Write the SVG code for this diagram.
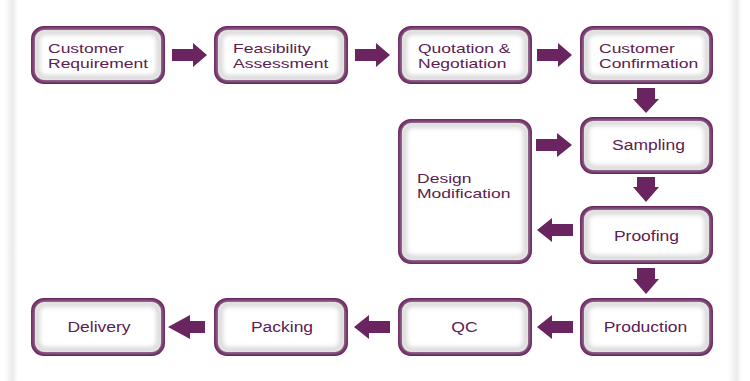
<svg xmlns="http://www.w3.org/2000/svg" width="750" height="381" viewBox="0 0 750 381">
<defs>
<linearGradient id="lsh" x1="0" x2="1" y1="0" y2="0">
<stop offset="0" stop-color="#ffffff"/>
<stop offset="0.6" stop-color="#ececec"/>
<stop offset="1" stop-color="#ffffff"/>
</linearGradient>
<filter id="inner" x="-10%" y="-10%" width="120%" height="120%">
<feGaussianBlur stdDeviation="2.5"/>
</filter>
</defs>
<style>
.box{fill:#ffffff;stroke:#6a2460;stroke-width:4}
.glow{fill:none;stroke:#c8c8c8;stroke-width:4}
.t{font-family:"Liberation Sans",Arial,sans-serif;font-size:14px;fill:#5c2052}
.m{font-size:13.4px}
.c{text-anchor:middle}
.arr{fill:#6a2460}
</style>
<rect width="750" height="381" fill="#ffffff"/>
<rect x="4" y="0" width="14" height="381" fill="url(#lsh)"/>
<rect x="728" y="0" width="14" height="381" fill="url(#lsh)"/>

<g id="connectors">
<polygon class="arr" points="172,49 193,49 193,43 207,55 193,67 193,61 172,61"/>
<polygon class="arr" points="355,49 376,49 376,43 390,55 376,67 376,61 355,61"/>
<polygon class="arr" points="537,49 558,49 558,43 572,55 558,67 558,61 537,61"/>
<polygon class="arr" points="637,88 655,88 655,99 659,99 646,113 633,99 637,99"/>
<polygon class="arr" points="536,139 557,139 557,133 572,145 557,157 557,151 536,151"/>
<polygon class="arr" points="637,177 655,177 655,187 659,187 646,202 633,187 637,187"/>
<polygon class="arr" points="573,224 552,224 552,218 537,230 552,242 552,236 573,236"/>
<polygon class="arr" points="637,268 655,268 655,279 659,279 646,294 633,279 637,279"/>
<polygon class="arr" points="573,321 552,321 552,315 537,327 552,339 552,333 573,333"/>
<polygon class="arr" points="390,321 369,321 369,315 354,327 369,339 369,333 390,333"/>
<polygon class="arr" points="205,321 190,321 190,315 168,327 190,339 190,333 205,333"/>
</g>

<g id="n1"><rect class="box" x="33" y="28" width="130" height="54" rx="11"/><rect class="glow" x="37" y="32" width="122" height="46" rx="8" filter="url(#inner)"/>
<text class="t m" x="48" y="52.5" textLength="75.8" lengthAdjust="spacingAndGlyphs">Customer</text><text class="t m" x="48" y="67.5" textLength="100.2" lengthAdjust="spacingAndGlyphs">Requirement</text></g>
<g id="n2"><rect class="box" x="216" y="28" width="130" height="54" rx="11"/><rect class="glow" x="220" y="32" width="122" height="46" rx="8" filter="url(#inner)"/>
<text class="t m" x="233" y="52.5" textLength="77.8" lengthAdjust="spacingAndGlyphs">Feasibility</text><text class="t m" x="233" y="67.5" textLength="95.3" lengthAdjust="spacingAndGlyphs">Assessment</text></g>
<g id="n3"><rect class="box" x="400" y="28" width="130" height="54" rx="11"/><rect class="glow" x="404" y="32" width="122" height="46" rx="8" filter="url(#inner)"/>
<text class="t m" x="418" y="52.5" textLength="92.4" lengthAdjust="spacingAndGlyphs">Quotation &amp;</text><text class="t m" x="418" y="67.5" textLength="88.5" lengthAdjust="spacingAndGlyphs">Negotiation</text></g>
<g id="n4"><rect class="box" x="582" y="28" width="129" height="54" rx="11"/><rect class="glow" x="586" y="32" width="121" height="46" rx="8" filter="url(#inner)"/>
<text class="t m" x="599" y="52.5" textLength="75.8" lengthAdjust="spacingAndGlyphs">Customer</text><text class="t m" x="599" y="67.5" textLength="99.2" lengthAdjust="spacingAndGlyphs">Confirmation</text></g>
<g id="n5"><rect class="box" x="582" y="119" width="129" height="53" rx="11"/><rect class="glow" x="586" y="123" width="121" height="45" rx="8" filter="url(#inner)"/>
<text class="t c" x="648.5" y="150" textLength="72.9" lengthAdjust="spacingAndGlyphs">Sampling</text></g>
<g id="n6"><rect class="box" x="400" y="121" width="130" height="141" rx="11"/><rect class="glow" x="404" y="125" width="122" height="133" rx="8" filter="url(#inner)"/>
<text class="t m" x="417" y="182.5" textLength="54.5" lengthAdjust="spacingAndGlyphs">Design</text><text class="t m" x="417" y="197.5" textLength="93.4" lengthAdjust="spacingAndGlyphs">Modification</text></g>
<g id="n7"><rect class="box" x="582" y="208" width="129" height="54" rx="11"/><rect class="glow" x="586" y="212" width="121" height="46" rx="8" filter="url(#inner)"/>
<text class="t c" x="646.5" y="240.5" textLength="65.2" lengthAdjust="spacingAndGlyphs">Proofing</text></g>
<g id="n8"><rect class="box" x="582" y="300" width="129" height="54" rx="11"/><rect class="glow" x="586" y="304" width="121" height="46" rx="8" filter="url(#inner)"/>
<text class="t c" x="645.5" y="332" textLength="83.7" lengthAdjust="spacingAndGlyphs">Production</text></g>
<g id="n9"><rect class="box" x="400" y="300" width="130" height="54" rx="11"/><rect class="glow" x="404" y="304" width="122" height="46" rx="8" filter="url(#inner)"/>
<text class="t c" x="464.5" y="332" textLength="26.3" lengthAdjust="spacingAndGlyphs">QC</text></g>
<g id="n10"><rect class="box" x="216" y="300" width="130" height="54" rx="11"/><rect class="glow" x="220" y="304" width="122" height="46" rx="8" filter="url(#inner)"/>
<text class="t c" x="282" y="332" textLength="62.2" lengthAdjust="spacingAndGlyphs">Packing</text></g>
<g id="n11"><rect class="box" x="33" y="300" width="130" height="54" rx="11"/><rect class="glow" x="37" y="304" width="122" height="46" rx="8" filter="url(#inner)"/>
<text class="t c" x="99" y="332" textLength="63.2" lengthAdjust="spacingAndGlyphs">Delivery</text></g>
</svg>
